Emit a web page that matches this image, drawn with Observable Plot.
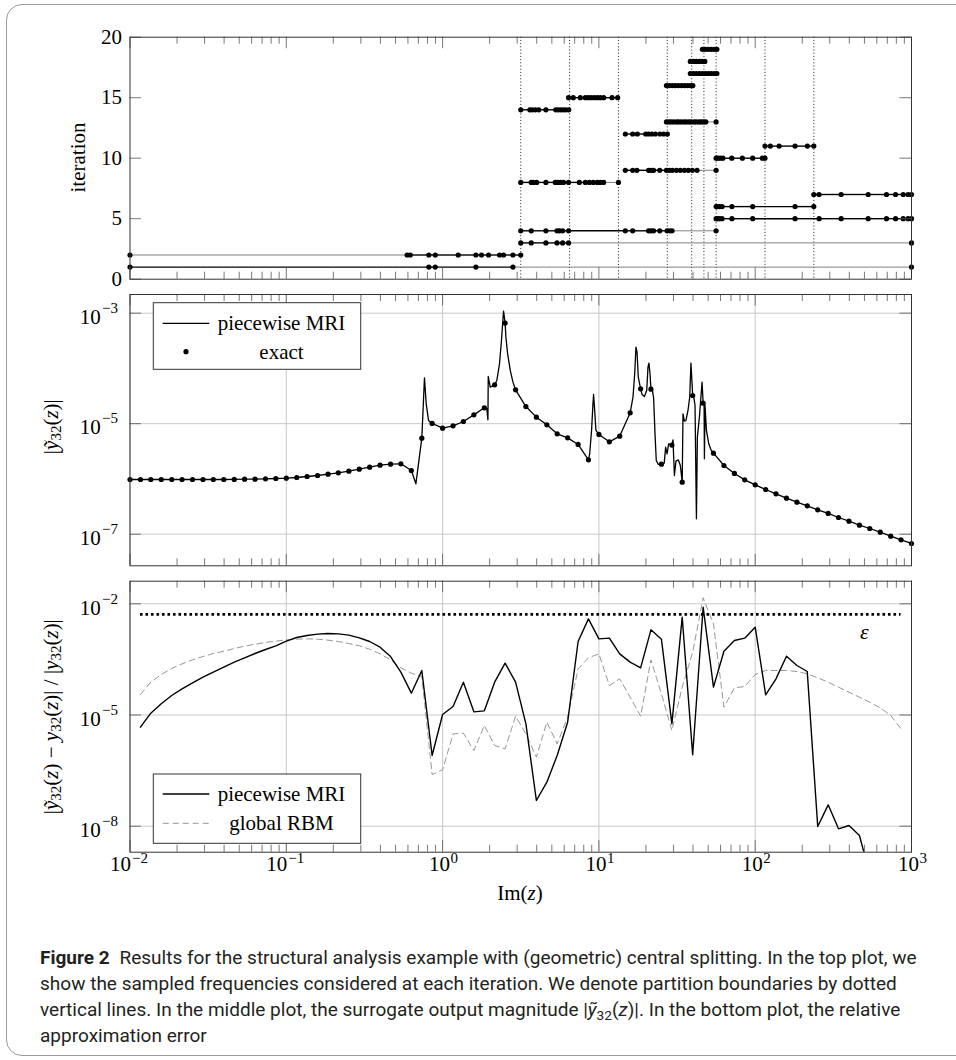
<!DOCTYPE html>
<html>
<head>
<meta charset="utf-8">
<script src="https://cdn.jsdelivr.net/npm/d3@7"></script>
<script src="https://cdn.jsdelivr.net/npm/@observablehq/plot@0.6"></script>
<style>
  html, body { margin:0; padding:0; background:#fff; }
  #wrap { position:relative; width:956px; height:1060px; overflow:hidden; background:#fff; }
  #border { position:absolute; left:6px; top:4px; width:1100px; height:1052px; border:1.5px solid #9a9a9a; border-radius:16px; box-sizing:border-box; }
</style>
</head>
<body>
<div id="wrap"><div id="border"></div></div>
<script>
// ---------------- DATA (log10 values) ----------------
// top plot: sampled frequencies per iteration, log10(Im z)
const sampleExp = [
  [-2, -0.088, -0.047, 0.213, 0.450, 3],
  [-2, -0.227, -0.207, -0.088, -0.047, 0.100, 0.213, 0.249, 0.294, 0.364, 0.390, 0.450, 0.5],
  [0.5, 0.567, 0.661, 0.732, 0.768, 0.806, 3],
  [0.5, 0.567, 0.661, 0.732, 0.748, 0.768, 0.806, 1.169, 1.216, 1.318, 1.334, 1.350, 1.389, 1.436, 1.453, 1.468, 1.75],
  [1.75, 1.758, 1.771, 1.788, 1.851, 1.984, 2.255, 2.409, 2.550, 2.723, 2.840, 2.898, 2.947, 2.978, 3],
  [1.75, 1.758, 1.771, 1.788, 1.851, 1.984, 2.255, 2.375],
  [2.375, 2.408, 2.550, 2.723, 2.840, 2.898, 2.947, 2.978, 3],
  [0.5, 0.567, 0.580, 0.602, 0.661, 0.721, 0.737, 0.753, 0.774, 0.806, 0.875, 0.913, 0.939, 0.964, 0.990, 1.009, 1.030, 1.125],
  [1.169, 1.216, 1.243, 1.318, 1.334, 1.350, 1.389, 1.432, 1.451, 1.470, 1.496, 1.521, 1.547, 1.572, 1.598, 1.628, 1.75],
  [1.75, 1.761, 1.777, 1.793, 1.850, 1.918, 1.984, 2.046, 2.0625],
  [2.0625, 2.097, 2.153, 2.255, 2.334, 2.375],
  [1.169, 1.216, 1.246, 1.300, 1.319, 1.339, 1.361, 1.390, 1.415, 1.438],
  [1.432, 1.448, 1.462, 1.479, 1.497, 1.510, 1.527, 1.545, 1.559, 1.577, 1.590, 1.609, 1.623, 1.641, 1.656, 1.670, 1.684, 1.75],
  [0.5, 0.558, 0.574, 0.593, 0.615, 0.661, 0.724, 0.740, 0.756, 0.772, 0.788, 0.807],
  [0.806, 0.836, 0.881, 0.913, 0.932, 0.951, 0.971, 0.990, 1.009, 1.031, 1.084, 1.120],
  [1.432, 1.451, 1.470, 1.489, 1.508, 1.528, 1.547, 1.566, 1.585, 1.601],
  [1.585, 1.604, 1.623, 1.643, 1.662, 1.681, 1.700, 1.719, 1.738, 1.755],
  [1.585, 1.604, 1.623, 1.643, 1.662, 1.678],
  [1.662, 1.681, 1.700, 1.719, 1.738, 1.755]
];
// [iteration, from, to] (log10) spans drawn as thin grey connecting lines
const greySpans = [[1, 0.450, 3], [2, -2, -0.227], [3, 0.806, 3], [4, 1.468, 1.75], [8, 1.030, 1.125], [9, 1.628, 1.75], [13, 1.684, 1.75]];
// partition boundaries (log10)
const boundaryExp = [0.5, 0.8125, 1.125, 1.4375, 1.59375, 1.671875, 1.75, 2.0625, 2.375];
const iterTicks = [0, 5, 10, 15, 20];

// middle plot: exact samples
const exactLogZ = [-2.000,-1.933,-1.867,-1.800,-1.733,-1.667,-1.600,-1.533,-1.467,-1.400,-1.333,-1.267,-1.200,-1.133,-1.067,-1.000,-0.933,-0.867,-0.800,-0.733,-0.667,-0.600,-0.533,-0.467,-0.400,-0.333,-0.267,-0.200,-0.133,-0.067,0.000,0.067,0.133,0.200,0.267,0.333,0.400,0.467,0.533,0.600,0.667,0.733,0.800,0.867,0.933,1.000,1.067,1.133,1.200,1.267,1.333,1.400,1.467,1.533,1.600,1.667,1.733,1.800,1.867,1.933,2.000,2.067,2.133,2.200,2.267,2.333,2.400,2.467,2.533,2.600,2.667,2.733,2.800,2.867,2.933,3.000];
const exactLogY = [-6.010,-6.010,-6.010,-6.010,-6.010,-6.010,-6.010,-6.010,-6.010,-6.010,
 -6.008,-6.004,-6.004,-5.998,-5.992,-5.986,-5.974,-5.956,-5.938,-5.913,
 -5.889,-5.859,-5.823,-5.787,-5.751,-5.733,-5.726,-5.847,-5.262,-4.996,
 -5.081,-5.038,-4.960,-4.840,-4.713,-4.297,-3.180,-4.387,-4.690,-4.882,
 -5.021,-5.183,-5.256,-5.376,-5.654,-5.195,-5.328,-5.226,-4.803,-4.369,
 -4.375,-5.733,-5.388,-6.058,-4.490,-4.629,-5.534,-5.757,-5.901,-6.016,
 -6.106,-6.191,-6.269,-6.348,-6.420,-6.487,-6.559,-6.625,-6.698,-6.764,
 -6.836,-6.897,-6.963,-7.036,-7.102,-7.168];
// middle plot: extra vertices of the piecewise MRI curve (resonance spikes)
const mriExtraLogZ = [-0.171,-0.116,-0.105,-0.090, 0.283,0.290,0.292,0.305, 0.347,0.364,0.375,0.384,0.390, 0.405,0.416,0.433,0.450, 0.941,0.953,0.962,0.966,0.973,0.981, 1.218,1.229,1.237,1.244,1.252, 1.276,1.291,1.306,1.314,1.320,1.327, 1.342,1.350,1.359,1.367,1.380, 1.418,1.427,1.436,1.446, 1.474,1.483,1.493,1.508,1.521, 1.538,1.547,1.557,1.570,1.581,1.589, 1.609,1.615,1.624,1.630,1.643,1.651,1.660, 1.673,1.675,1.679,1.688,1.703,1.717];
const mriExtraLogY = [-6.088,-4.170,-4.640,-4.941, -4.730,-4.930,-4.146,-4.339, -4.218,-3.916,-3.554,-3.192,-2.963, -3.434,-3.735,-4.037,-4.248, -5.545,-5.123,-4.640,-4.471,-4.761,-5.123, -4.520,-4.097,-3.615,-3.705,-4.158, -4.471,-4.508,-4.399,-3.977,-3.904,-4.097, -4.387,-4.532,-5.183,-5.666,-5.738, -5.714,-5.425,-5.545,-5.364, -5.292,-5.938,-5.678,-5.654,-5.757, -4.821,-4.954,-4.942,-4.761,-4.520,-3.904, -4.550,-4.671,-6.722,-5.244,-4.882,-4.580,-4.248, -4.640,-5.636,-4.671,-5.123,-5.364,-5.473];
const midTicks = [1e-3, 1e-5, 1e-7];

// bottom plot: relative errors
const errLogZ = [-1.933,-1.867,-1.800,-1.733,-1.667,-1.600,-1.533,-1.467,-1.400,-1.333,-1.267,-1.200,-1.133,-1.067,-1.000,-0.933,-0.867,-0.800,-0.733,-0.667,-0.600,-0.533,-0.467,-0.400,-0.333,-0.267,-0.200,-0.133,-0.067,0.000,0.067,0.133,0.200,0.267,0.333,0.400,0.467,0.533,0.600,0.667,0.733,0.800,0.867,0.933,1.000,1.067,1.133,1.200,1.267,1.333,1.400,1.467,1.533,1.600,1.667,1.733,1.800,1.867,1.933,2.000,2.067,2.133,2.200,2.267,2.333,2.400,2.467,2.533,2.600,2.667,2.733,2.800,2.867,2.933];
const mriErrLog = [-5.328,-4.950,-4.698,-4.474,-4.294,-4.132,-3.979,-3.844,-3.709,-3.574,
 -3.458,-3.341,-3.233,-3.134,-3.008,-2.909,-2.855,-2.819,-2.801,-2.810,
 -2.846,-2.918,-3.017,-3.170,-3.422,-3.844,-4.411,-3.799,-6.092,-4.986,
 -4.770,-4.114,-4.914,-4.887,-4.114,-3.601,-4.114,-5.238,-7.306,-6.812,
 -6.092,-5.193,-3.017,-2.406,-2.945,-2.927,-3.350,-3.574,-3.727,-2.702,
 -2.954,-5.238,-2.361,-6.074,-2.091,-4.249,-3.278,-2.990,-2.927,-2.630,
 -4.456,-4.024,-3.413,-3.664,-3.826,-8.008,-7.423,-8.071,-7.981,-8.250,
 -9.300];
const rbmErrLog = [-4.447,-4.114,-3.907,-3.745,-3.619,-3.512,-3.422,-3.341,-3.278,-3.206,
 -3.143,-3.089,-3.044,-3.008,-2.972,-2.954,-2.945,-2.954,-2.981,-3.017,
 -3.071,-3.134,-3.224,-3.350,-3.512,-3.727,-3.871,-3.961,-6.605,-6.479,
 -5.508,-5.490,-5.957,-5.283,-5.822,-5.912,-5.031,-5.508,-6.137,-5.193,
 -5.777,-5.058,-3.754,-3.458,-3.350,-4.204,-4.024,-4.519,-5.031,-3.512,
 -4.429,-5.418,-4.249,-3.305,-1.839,-2.540,-4.788,-4.267,-4.231,-3.907,
 -3.799,-3.799,-3.799,-3.826,-3.889,-3.997,-4.114,-4.249,-4.384,-4.519,
 -4.653,-4.806,-5.013,-5.373];
const epsilon = 5.2e-3;
const epsLabelZ = 500;
const botTicks = [1e-2, 1e-5, 1e-8];
const decades = [1e-2, 1e-1, 1, 10, 100, 1000];

// ---------------- LAYOUT ----------------
const SERIF = "'Liberation Serif', 'DejaVu Serif', serif";
const W = 956, ML = 129.5, MR = 45, FW = W - ML - MR;
const wrap = document.getElementById("wrap");
function place(node, top) { node.style.position = "absolute"; node.style.left = "0px"; node.style.top = top + "px"; wrap.appendChild(node); }

const minorX = [];
for (const d of [-2, -1, 0, 1, 2]) for (let m = 2; m <= 9; m++) minorX.push(m * 10 ** d);

const TICK = {stroke: "#555", strokeWidth: 0.8};
function tickMarks(FH, yT) {
  return [
    Plot.ruleX(minorX, {...TICK, insetTop: FH - 7}),
    Plot.ruleX(minorX, {...TICK, insetBottom: FH - 7}),
    Plot.ruleX(decades, {...TICK, insetTop: FH - 11.5}),
    Plot.ruleX(decades, {...TICK, insetBottom: FH - 11.5}),
    Plot.ruleY(yT, {...TICK, insetRight: FW - 11.5}),
    Plot.ruleY(yT, {...TICK, insetLeft: FW - 11.5})
  ];
}
const expStr = d => { const e = Math.round(Math.log10(d)); return (e < 0 ? "\u2212" : "") + Math.abs(e); };
function logYLabels(vals) {
  return [
    Plot.text(vals, {y: d => d, text: () => "10", frameAnchor: "left", textAnchor: "start", dx: -50.2, dy: 4, fontSize: 21}),
    Plot.text(vals, {y: d => d, text: d => expStr(d), frameAnchor: "left", textAnchor: "start", dx: -28, dy: -5, fontSize: 15})
  ];
}
const baseStyle = {fontFamily: SERIF, fontSize: "21px", background: "transparent", overflow: "visible", color: "#000"};
const xLog = {type: "log", domain: [1e-2, 1e3], axis: null};

// ---------------- TOP PANEL ----------------
const pts = [], segs = [];
sampleExp.forEach((arr, k) => {
  const it = k + 1;
  arr.forEach(e => pts.push({it, z: 10 ** e}));
  for (let j = 0; j < arr.length - 1; j++) {
    const a = arr[j], b = arr[j + 1], mid = (a + b) / 2;
    const grey = greySpans.some(s => s[0] === it && mid > s[1] && mid < s[2]);
    segs.push({it, z1: 10 ** a, z2: 10 ** b, grey});
  }
});
const H1 = 286, MT1 = 36.7, MB1 = 7.3, FH1 = H1 - MT1 - MB1;
const p1 = Plot.plot({
  width: W, height: H1, marginLeft: ML, marginRight: MR, marginTop: MT1, marginBottom: MB1,
  style: baseStyle,
  x: xLog,
  y: {domain: [0, 20], label: null},
  marks: [
    Plot.ruleX(boundaryExp, {x: d => 10 ** d, stroke: "#000", strokeWidth: 0.9, strokeDasharray: "1,2.2"}),
    Plot.link(segs.filter(s => s.grey), {x1: "z1", x2: "z2", y1: "it", y2: "it", stroke: "#808080", strokeWidth: 1}),
    Plot.link(segs.filter(s => !s.grey), {x1: "z1", x2: "z2", y1: "it", y2: "it", stroke: "#000", strokeWidth: 1.4}),
    Plot.dot(pts, {x: "z", y: "it", r: 2.6, fill: "#000", stroke: "none"}),
    ...tickMarks(FH1, iterTicks),
    Plot.frame({stroke: "#333", strokeWidth: 1}),
    Plot.axisY(iterTicks, {tickSize: 0, tickPadding: 8, fontSize: 21, label: null})
  ]
});
place(p1, 0);

// ---------------- MIDDLE PANEL ----------------
const exact = exactLogZ.map((e, i) => ({z: 10 ** e, y: 10 ** exactLogY[i]}));
const mri = exactLogZ.map((e, i) => ({e, ly: exactLogY[i]}))
  .concat(mriExtraLogZ.map((e, i) => ({e, ly: mriExtraLogY[i]})))
  .sort((a, b) => a.e - b.e)
  .map(d => ({z: 10 ** d.e, y: 10 ** d.ly}));
const T2 = 286, H2 = 284, MT2 = 8, MB2 = T2 + H2 - 565.3, FH2 = H2 - MT2 - MB2;
const p2 = Plot.plot({
  width: W, height: H2, marginLeft: ML, marginRight: MR, marginTop: MT2, marginBottom: MB2,
  style: baseStyle,
  x: xLog,
  y: {type: "log", domain: [10 ** -7.572, 10 ** -2.662], axis: null},
  marks: [
    Plot.ruleX(decades, {stroke: "#c8c8c8", strokeWidth: 1}),
    Plot.ruleY(midTicks, {stroke: "#c8c8c8", strokeWidth: 1}),
    ...tickMarks(FH2, midTicks),
    Plot.line(mri, {x: "z", y: "y", stroke: "#000", strokeWidth: 1.3}),
    Plot.dot(exact, {x: "z", y: "y", r: 2.6, fill: "#000", stroke: "none"}),
    Plot.frame({stroke: "#333", strokeWidth: 1}),
    ...logYLabels(midTicks)
  ]
});
place(p2, T2);

// ---------------- BOTTOM PANEL ----------------
const mriErr = mriErrLog.map((v, i) => ({z: 10 ** errLogZ[i], y: 10 ** v}));
const rbmErr = rbmErrLog.map((v, i) => ({z: 10 ** errLogZ[i], y: 10 ** v}));
const T3 = 570, H3 = 370, MT3 = 10.7, MB3 = T3 + H3 - 851.7, FH3 = H3 - MT3 - MB3;
const negDec = decades.filter(d => d < 1), posDec = decades.filter(d => d >= 1);
const p3 = Plot.plot({
  width: W, height: H3, marginLeft: ML, marginRight: MR, marginTop: MT3, marginBottom: MB3,
  style: baseStyle,
  x: xLog,
  y: {type: "log", domain: [10 ** -8.701, 10 ** -1.390], axis: null},
  marks: [
    Plot.ruleX(decades, {stroke: "#c8c8c8", strokeWidth: 1}),
    Plot.ruleY(botTicks, {stroke: "#c8c8c8", strokeWidth: 1}),
    ...tickMarks(FH3, botTicks),
    Plot.ruleY([epsilon], {x1: 10 ** errLogZ[0], x2: 10 ** errLogZ[errLogZ.length - 1], stroke: "#000", strokeWidth: 2.6, strokeDasharray: "2.6,2.9"}),
    Plot.line(rbmErr, {x: "z", y: "y", stroke: "#8a8a8a", strokeWidth: 0.9, strokeDasharray: "6,4", clip: true}),
    Plot.line(mriErr, {x: "z", y: "y", stroke: "#000", strokeWidth: 1.4, clip: true}),
    Plot.text([epsilon], {x: () => epsLabelZ, y: d => d, text: () => "\u03b5", dy: 18, fontStyle: "italic", fontSize: 22}),
    Plot.frame({stroke: "#333", strokeWidth: 1}),
    ...logYLabels(botTicks),
    Plot.text(negDec, {x: d => d, text: () => "10", frameAnchor: "bottom", textAnchor: "start", dx: -20, dy: 19, fontSize: 21}),
    Plot.text(negDec, {x: d => d, text: d => expStr(d), frameAnchor: "bottom", textAnchor: "start", dx: 2, dy: 10.3, fontSize: 15}),
    Plot.text(posDec, {x: d => d, text: () => "10", frameAnchor: "bottom", textAnchor: "start", dx: -13.5, dy: 19, fontSize: 21}),
    Plot.text(posDec, {x: d => d, text: d => expStr(d), frameAnchor: "bottom", textAnchor: "start", dx: 8, dy: 10.3, fontSize: 15})
  ]
});
place(p3, T3);

// ---------------- OVERLAY: axis titles, legends ----------------
const ov = d3.create("svg").attr("width", W).attr("height", 1060)
  .style("position", "absolute").style("left", "0px").style("top", "0px")
  .style("font-family", SERIF).style("font-size", "21px");

function mathText(g, parts, subSize) {
  parts.forEach((p, i) => {
    const t = g.append("tspan").text(p.t);
    if (p.it) t.attr("font-style", "italic");
    if (p.sub) t.attr("font-size", subSize).attr("dy", 5);
    else if (i > 0 && parts[i - 1].sub) t.attr("dy", -5);
  });
}
// y titles
ov.append("text").attr("transform", "translate(78.3,157.5) rotate(-90)").attr("text-anchor", "middle")
  .attr("dominant-baseline", "central").text("iteration");
const t2 = ov.append("text").attr("transform", "translate(51,426.7) rotate(-90)").attr("text-anchor", "middle")
  .attr("dominant-baseline", "central");
mathText(t2, [{t: "|"}, {t: "\u1ef9", it: 1}, {t: "32", sub: 1}, {t: "("}, {t: "z", it: 1}, {t: ")|"}], 15);
const t3 = ov.append("text").attr("transform", "translate(51,716.7) rotate(-90)").attr("text-anchor", "middle")
  .attr("dominant-baseline", "central");
mathText(t3, [{t: "|"}, {t: "\u1ef9", it: 1}, {t: "32", sub: 1}, {t: "("}, {t: "z", it: 1}, {t: ") \u2212 "},
  {t: "y", it: 1}, {t: "32", sub: 1}, {t: "("}, {t: "z", it: 1}, {t: ")| / |"},
  {t: "y", it: 1}, {t: "32", sub: 1}, {t: "("}, {t: "z", it: 1}, {t: ")|"}], 15);
// x title
const tx = ov.append("text").attr("x", 520).attr("y", 900).attr("text-anchor", "middle");
mathText(tx, [{t: "Im("}, {t: "z", it: 1}, {t: ")"}], 15);

// legends
function legend(y0, h, rows) {
  const g = ov.append("g");
  g.append("rect").attr("x", 153.3).attr("y", y0).attr("width", 207.4).attr("height", h)
    .attr("fill", "#fff").attr("stroke", "#333").attr("stroke-width", 1);
  rows.forEach(r => {
    if (r.kind === "dot") g.append("circle").attr("cx", 186).attr("cy", r.y).attr("r", 2.6).attr("fill", "#000");
    else g.append("line").attr("x1", 162.7).attr("x2", 209.3).attr("y1", r.y).attr("y2", r.y)
      .attr("stroke", r.color).attr("stroke-width", r.w).attr("stroke-dasharray", r.dash || null);
    g.append("text").attr("x", 281.5).attr("y", r.y + 7).attr("text-anchor", "middle").text(r.label);
  });
}
legend(302.7, 66.6, [
  {kind: "line", y: 323.3, color: "#000", w: 1.3, label: "piecewise MRI"},
  {kind: "dot", y: 351.7, label: "exact"}
]);
legend(774, 69.3, [
  {kind: "line", y: 794, color: "#000", w: 1.4, label: "piecewise MRI"},
  {kind: "line", y: 823.3, color: "#8a8a8a", w: 0.9, dash: "6,4", label: "global RBM"}
]);
wrap.appendChild(ov.node());

// ---------------- CAPTION ----------------
const cap = d3.create("svg").attr("width", W).attr("height", 1060)
  .style("position", "absolute").style("left", "0px").style("top", "0px")
  .style("font-family", "Roboto, 'Liberation Sans', sans-serif").style("font-size", "18px").attr("fill", "#231f20");
wrap.appendChild(cap.node());
const lines = [];
const l1 = cap.append("text");
l1.append("tspan").attr("font-weight", "bold").text("Figure 2");
l1.append("tspan").text("\u2002Results for the structural analysis example with (geometric) central splitting. In the top plot, we");
lines.push(l1);
lines.push(cap.append("text").text("show the sampled frequencies considered at each iteration. We denote partition boundaries by dotted"));
const l3 = cap.append("text");
l3.append("tspan").text("vertical lines. In the middle plot, the surrogate output magnitude |");
l3.append("tspan").attr("font-style", "italic").text("\u1ef9");
l3.append("tspan").attr("font-size", 13).attr("dy", 4).text("32");
l3.append("tspan").attr("dy", -4).text("(");
l3.append("tspan").attr("font-style", "italic").text("z");
l3.append("tspan").text(")|. In the bottom plot, the relative");
lines.push(l3);
lines.push(cap.append("text").text("approximation error"));
const k = 877 / l1.node().getComputedTextLength();
lines.forEach((l, i) => l.attr("transform", `translate(40,${964 + i * 26}) scale(${k},1)`));
</script>
</body>
</html>
